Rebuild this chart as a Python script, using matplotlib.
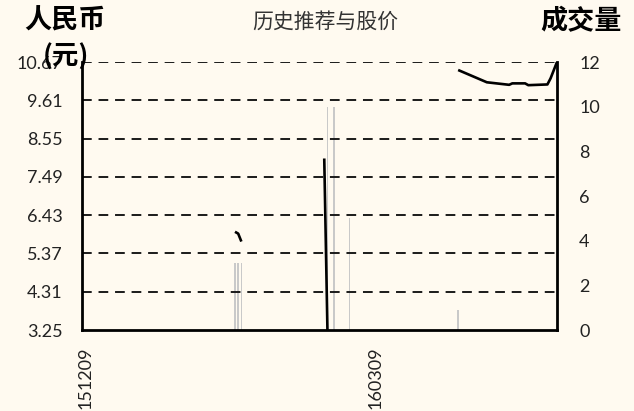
import numpy as np
import pandas as pd
import matplotlib
matplotlib.use("Agg")
import matplotlib.pyplot as plt
import matplotlib.dates as mdates

plt.rcParams['font.family'] = ['Lato', 'Noto Sans CJK SC', 'DejaVu Sans']

# Closing price (yuan); NaN breaks the line between trading stretches
price_dates = ['2015-12-09', '2016-01-25', '2016-01-26', '2016-01-27', '2016-02-10',
               '2016-02-22', '2016-02-23', '2016-03-15',
               '2016-04-04', '2016-04-13', '2016-04-20', '2016-04-21', '2016-04-25',
               '2016-04-26', '2016-05-02', '2016-05-03', '2016-05-05']
price_values = [np.nan, 5.97, 5.92, 5.70, np.nan,
                8.00, 3.25, np.nan,
                10.45, 10.11, 10.04, 10.08, 10.08,
                10.03, 10.05, 10.22, 10.67]

# Trading volume
volume_dates = ['2016-01-25', '2016-01-26', '2016-01-27', '2016-02-23',
                '2016-02-25', '2016-03-01', '2016-04-04']
volume_values = [3.0, 3.0, 3.0, 10.0, 10.0, 5.0, 0.9]

price_ticks = [3.25, 4.31, 5.37, 6.43, 7.49, 8.55, 9.61, 10.67]
volume_ticks = [0, 2, 4, 6, 8, 10, 12]
date_ticks = ['2015-12-09', '2016-03-09']

bg = '#FFFAF0'
fig = plt.figure(figsize=(6.34, 4.11), dpi=100, facecolor=bg)
ax = fig.add_axes([0.1293, 0.197, 0.7492, 0.652])
ax2 = ax.twinx()
ax2.set_facecolor(bg)
ax.set_zorder(ax2.get_zorder() + 1)
ax.patch.set_visible(False)

pd_dates = pd.to_datetime(price_dates)
vd_dates = pd.to_datetime(volume_dates)

ax2.bar(vd_dates, volume_values, width=0.45, color='#C9C9C9', linewidth=0)
ax.plot(pd_dates, price_values, color='black', linewidth=1.9, solid_capstyle='butt')

ax.set_ylim(price_ticks[0], price_ticks[-1])
ax.set_yticks(price_ticks)
ax.set_yticklabels([f'{v:.2f}' for v in price_ticks])
ax2.set_ylim(0, 12)
ax2.set_yticks(volume_ticks)

ax.set_xlim(pd.Timestamp('2015-12-08'), pd.Timestamp('2016-05-05'))
ax.set_xticks(pd.to_datetime(date_ticks))
ax.xaxis.set_major_formatter(mdates.DateFormatter('%y%m%d'))

for t in price_ticks[1:]:
    ax.axhline(t, color='#1a1a1a', linewidth=1.4, linestyle=(0, (5, 3.5)), zorder=0)

for a in (ax, ax2):
    for s in a.spines.values():
        s.set_visible(False)
    a.tick_params(length=0, labelsize=13, colors='#222222')
ax.tick_params(axis='y', pad=14)
ax2.tick_params(axis='y', pad=16)
ax.tick_params(axis='x', pad=12, labelrotation=90)
for s in ('left', 'bottom'):
    ax.spines[s].set_visible(True)
    ax.spines[s].set_linewidth(2.0)
    ax.spines[s].set_color('black')
ax2.spines['right'].set_visible(True)
ax2.spines['right'].set_linewidth(2.0)
ax2.spines['right'].set_color('black')

cjk = ['Noto Sans CJK SC', 'DejaVu Sans']
fig.text(65 / 634, 1 - 21 / 411, '人民币', family=cjk, fontsize=19.5, fontweight='bold',
         ha='center', va='center')
fig.text(66 / 634, 1 - 57 / 411, '(元)', family=cjk, fontsize=19, fontweight='bold',
         ha='center', va='center')
fig.text(581 / 634, 1 - 21 / 411, '成交量', family=cjk, fontsize=19.5, fontweight='bold',
         ha='center', va='center')
fig.text(325 / 634, 1 - 22 / 411, '历史推荐与股价', family=cjk, fontsize=15,
         color='#333333', ha='center', va='center')

fig.savefig('out.png', dpi=100, facecolor=bg)
